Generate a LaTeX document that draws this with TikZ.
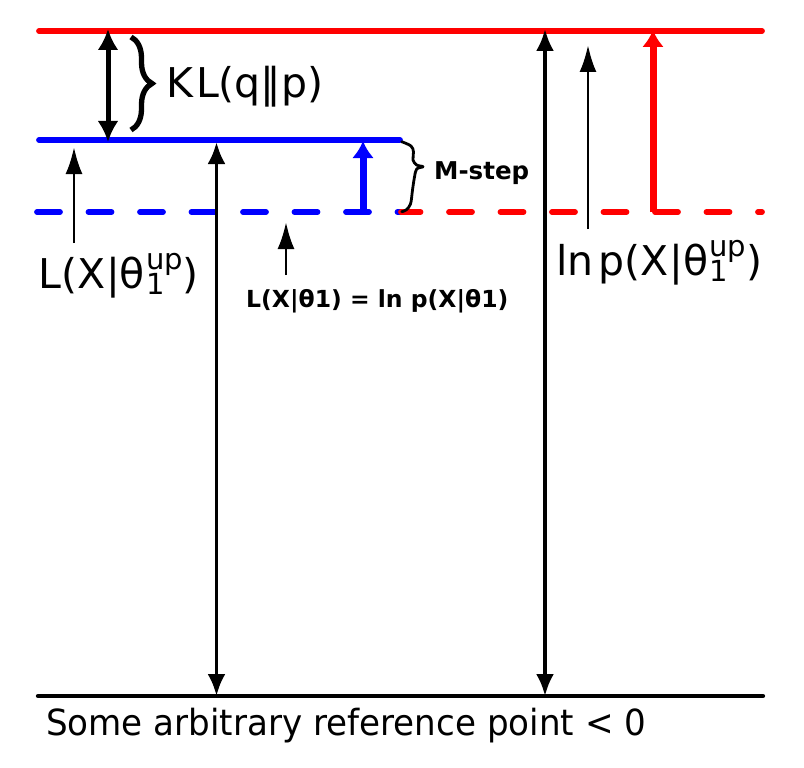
\documentclass[tikz,border=0pt]{standalone}
\usepackage{fontspec}
\setmainfont{DejaVu Sans}
\usetikzlibrary{arrows.meta,decorations.pathreplacing}
\newcommand\thup{θ\kern1pt\rlap{\raisebox{-0.16em}{\fontsize{29}{29}\selectfont 1}}\raisebox{0.45em}{\fontsize{29}{29}\selectfont up}}
\begin{document}
\begin{tikzpicture}[x=1pt,y=-1pt,
  hline/.style={line width=5.8pt, line cap=round},
  dashline/.style={line width=5.8pt, line cap=round, dash pattern=on 23pt off 28.5pt},
  bigarrow/.style={line width=5pt, {Latex[length=21pt,width=21pt]}-{Latex[length=21pt,width=21pt]}},
  midarrow/.style={line width=3.8pt, {Latex[length=22pt,width=18pt]}-{Latex[length=22pt,width=18pt]}},
  pointer/.style={line width=2.7pt, -{Latex[length=27pt,width=17pt]}},
  steparrow/.style={line width=7pt, -{Latex[length=17pt,width=22pt]}},
  biglbl/.style={inner sep=0pt, anchor=base west, font=\fontsize{41}{41}\selectfont},
  boldlbl/.style={inner sep=0pt, anchor=base west, font=\fontsize{23.5}{23.5}\selectfont\bfseries}]
\useasboundingbox (0,0) rectangle (804,768);
% levels
\coordinate (rL) at (39,31);   \coordinate (rR) at (762,31);
\coordinate (bL) at (39,140);  \coordinate (bR) at (400,140);
\coordinate (dL) at (37,212);  \coordinate (dM) at (401,212); \coordinate (dR) at (762,212);
\coordinate (zL) at (38,696);  \coordinate (zR) at (763,696);
\draw[hline, red] (rL) -- (rR);
\draw[hline, blue] (bL) -- (bR);
\draw[dashline, blue] (dL) -- (dM);
\draw[dashline, red, dash phase=3.5pt] (dM) -- (dR);
\draw[line width=4.3pt, line cap=round] (zL) -- (zR);
% arrows
\coordinate (kt) at (108,29);  \coordinate (kb) at (108,142);
\draw[bigarrow] (kt) -- (kb);
\coordinate (at) at (216.5,142); \coordinate (ab) at (216.5,696);
\draw[midarrow] (at) -- (ab);
\coordinate (ct) at (545,29); \coordinate (cb) at (545,696);
\draw[midarrow] (ct) -- (cb);
\coordinate (p1a) at (74,243); \coordinate (p1b) at (74,147);
\draw[pointer] (p1a) -- (p1b);
\coordinate (p2a) at (286,275); \coordinate (p2b) at (286,222);
\draw[pointer] (p2a) -- (p2b);
\coordinate (p3a) at (588,229); \coordinate (p3b) at (588,45);
\draw[pointer] (p3a) -- (p3b);
\coordinate (sa) at (363,212); \coordinate (sb) at (363,141);
\draw[steparrow, blue] (sa) -- (sb);
\coordinate (ra) at (653,212); \coordinate (rb) at (653,30);
\draw[steparrow, red] (ra) -- (rb);
% braces
\coordinate (kbt) at (131,37); \coordinate (kbb) at (131,130);
\draw[line width=5.3pt, decorate, decoration={brace, amplitude=21pt}] (kbt) -- (kbb);
\draw[line width=2.8pt, line cap=round, line join=round] plot[smooth, tension=0.6] coordinates {(401.7,141.7) (411,146) (413.5,152) (413,160) (416.7,165) (423,166.7) (416.7,169) (414.5,177) (412.5,190) (410.5,204) (406,210) (401.7,211.7)};
% labels
\node[biglbl] (kl) at (166,98) {K\kern3pt L(q‖p)};
\node[boldlbl, font=\fontsize{24.5}{24.5}\selectfont\bfseries] (ms) at (434,179) {M-step};
\node[biglbl] (lq) at (38,288) {L(X\kern1pt|\thup)};
\node[biglbl] (lp) at (556,275) {ln\kern5pt p(X\kern1pt|\thup)};
\node[boldlbl] (eq) at (246,307) {L(X|θ1) = ln p(X|θ1)};
\node[inner sep=0pt, anchor=base west, xscale=0.948, font=\fontsize{36}{36}\selectfont] (ref) at (46,735) {Some arbitrary reference point < 0};
\end{tikzpicture}
\end{document}
